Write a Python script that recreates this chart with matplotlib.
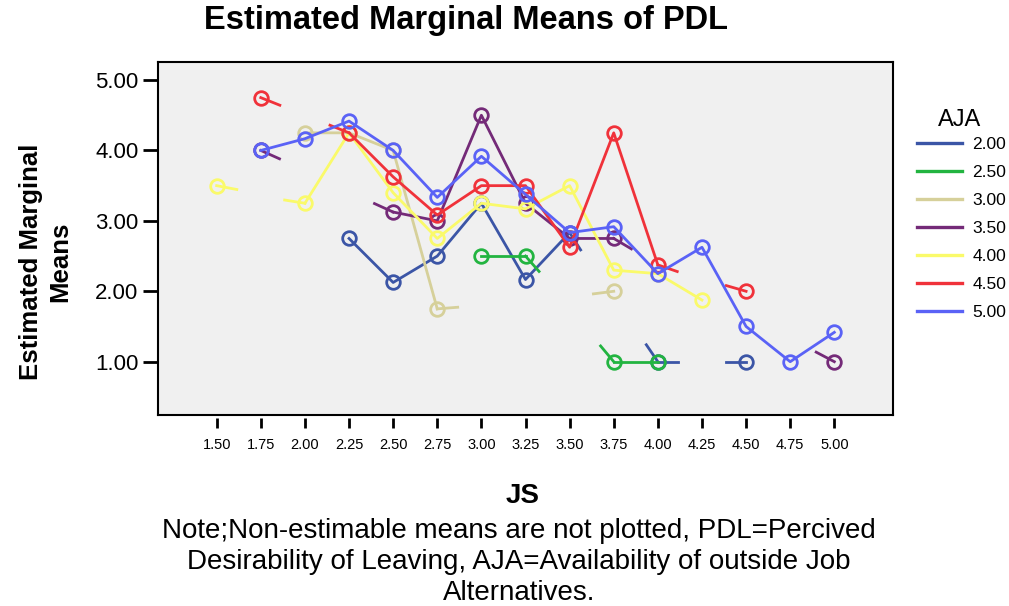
import numpy as np
import matplotlib
matplotlib.use("Agg")
import matplotlib.pyplot as plt

nan = np.nan
categories = ['1.50', '1.75', '2.00', '2.25', '2.50', '2.75', '3.00', '3.25',
              '3.50', '3.75', '4.00', '4.25', '4.50', '4.75', '5.00']
groups = ['2.00', '2.50', '3.00', '3.50', '4.00', '4.50', '5.00']

aja_200 = [nan, nan, nan, 2.75, 2.125, 2.5, 3.25, 2.167, 2.833, nan, 1.0, nan, 1.0, nan, nan]
aja_250 = [nan, nan, nan, nan, nan, nan, 2.5, 2.5, nan, 1.0, 1.0, nan, nan, nan, nan]
aja_300 = [nan, nan, 4.25, 4.25, 4.0, 1.75, nan, nan, nan, 2.0, nan, nan, nan, nan, nan]
aja_350 = [nan, 4.0, nan, nan, 3.125, 3.0, 4.5, 3.25, 2.75, 2.75, nan, nan, nan, nan, 1.0]
aja_400 = [3.5, nan, 3.25, 4.25, 3.4, 2.75, 3.25, 3.17, 3.5, 2.3, 2.25, 1.875, nan, nan, nan]
aja_450 = [nan, 4.75, nan, 4.25, 3.625, 3.083, 3.5, 3.5, 2.625, 4.25, 2.375, nan, 2.0, nan, nan]
aja_500 = [nan, 4.0, 4.167, 4.417, 4.0, 3.333, 3.917, 3.375, 2.833, 2.917, 2.25, 2.625, 1.5, 1.0, 1.417]

# partial segments toward non-estimable neighbours: (category, direction, neighbour value)
stubs_200 = [('3.50', 1, 1.85), ('4.00', -1, 1.92), ('4.00', 1, 1.0), ('4.50', -1, 1.0)]
stubs_250 = [('3.25', 1, 1.79), ('3.75', -1, 1.75)]
stubs_300 = [('2.75', 1, 1.80), ('3.75', -1, 1.92)]
stubs_350 = [('1.75', 1, 3.72), ('2.50', -1, 3.41), ('3.75', 1, 2.38), ('5.00', -1, 1.33)]
stubs_400 = [('1.50', 1, 3.38), ('2.00', -1, 3.35)]
stubs_450 = [('1.75', 1, 4.5), ('2.25', -1, 4.5), ('4.00', 1, 2.16), ('4.50', -1, 2.18)]
stubs_500 = []

series = [aja_200, aja_250, aja_300, aja_350, aja_400, aja_450, aja_500]
stubs = [stubs_200, stubs_250, stubs_300, stubs_350, stubs_400, stubs_450, stubs_500]
colors = ['#3b55a6', '#22b440', '#d6d09a', '#742a78', '#fafa6a', '#f0323a', '#5a62f6']

plt.rcParams['font.family'] = ['Liberation Sans', 'DejaVu Sans']

fig = plt.figure(figsize=(10.09, 6.06), dpi=100)
ax = fig.add_axes([158/1009, 1-415/606, (893-158)/1009, (415-62)/606])
ax.set_facecolor('#f0f0f0')
x = np.arange(len(categories))
ax.set_xlim(-1.33, 15.33)
ax.set_ylim(0.243, 5.256)

LW = 2.0
STUB_PX = 20.5
for vals, st, col, g in zip(series, stubs, colors, groups):
    v = np.array(vals, dtype=float)
    ax.plot(x, v, color=col, lw=LW, label=g, zorder=3)
    ax.plot(x, v, ls='none', marker='o', ms=9.8, mfc='none', mec=col, mew=2.0, zorder=3)
    for cat, d, tgt in st:
        i = categories.index(cat)
        p0 = ax.transData.transform((i, v[i]))
        p1 = ax.transData.transform((i + d, tgt))
        vec = (p1 - p0) / np.hypot(*(p1 - p0)) * STUB_PX
        q = ax.transData.inverted().transform(p0 + vec)
        ax.plot([i, q[0]], [v[i], q[1]], color=col, lw=LW, zorder=3)

for s in ax.spines.values():
    s.set_linewidth(1.5)

ax.set_yticks([1, 2, 3, 4, 5])
ax.set_yticklabels(['1.00', '2.00', '3.00', '4.00', '5.00'], fontsize=16)
ax.tick_params(axis='y', direction='out', length=11, width=2, pad=3)
ax.set_xticks([])

sec = ax.secondary_xaxis(-0.009)
sec.set_xticks(x)
sec.set_xticklabels(categories, fontsize=10.5)
sec.spines['bottom'].set_visible(False)
sec.tick_params(axis='x', direction='out', length=7.5, width=2, pad=7)

fig.text(0.462, 1-21/606, 'Estimated Marginal Means of PDL', ha='center', va='center',
         fontsize=23.5, fontweight='bold')
fig.text(0.045, 1-262/606, 'Estimated Marginal\nMeans', ha='center', va='center',
         rotation=90, fontsize=18.5, fontweight='bold', linespacing=1.3)
fig.text(0.518, 1-496/606, 'JS', ha='center', va='center', fontsize=20, fontweight='bold')
fig.text(0.514, 1-562/606,
         'Note;Non-estimable means are not plotted, PDL=Percived\n'
         'Desirability of Leaving, AJA=Availability of outside Job\nAlternatives.',
         ha='center', va='center', fontsize=20, linespacing=1.27)

fig.text(960/1009, 1-120/606, 'AJA', ha='center', va='center', fontsize=17)
handles = [plt.Line2D([], [], color=c, lw=2.4) for c in colors]
leg = fig.legend(handles, groups, loc='upper left',
                 bbox_to_anchor=(910/1009, 1-130/606), frameon=False,
                 fontsize=12.5, handlelength=2.6,
                 labelspacing=0.74, handletextpad=0.6, borderaxespad=0)

fig.savefig('out.png', dpi=100)
